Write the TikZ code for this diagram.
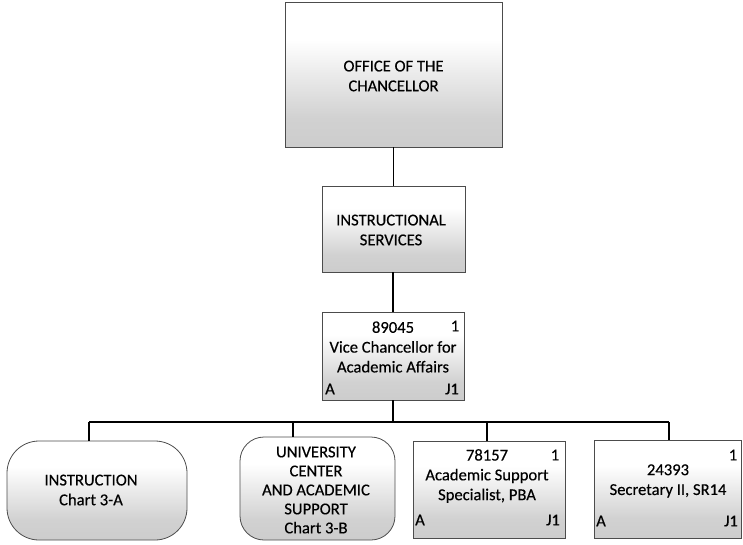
\documentclass[tikz,border=0pt]{standalone}
\usepackage{fontspec}
\setmainfont{Carlito}[UprightFeatures={FakeBold=0.35}]
\pgfdeclareverticalshading{boxshade}{100bp}{color(0bp)=(black!24); color(35bp)=(black!18); color(62bp)=(white); color(100bp)=(white)}
\tikzset{
  orgbox/.style={draw=black!70, line width=0.8pt, shading=boxshade, inner sep=0pt},
  roundbox/.style={orgbox, rounded corners=28pt},
  lbl/.style={font=\fontsize{16.6}{19.8}\selectfont, align=center, inner sep=0pt},
  corner/.style={font=\fontsize{16.6}{19.8}\selectfont, inner sep=0pt},
  conn/.style={line width=1.4pt, black}
}
\begin{document}
\begin{tikzpicture}[x=1pt,y=-1pt]
\useasboundingbox (0,0) rectangle (743,544);
% boxes
\node[orgbox, minimum width=217pt, minimum height=145pt] (office) at (393.5,74.5) {};
\node[lbl] (officet) at (393.5,76) {OFFICE OF THE\\CHANCELLOR};
\node[orgbox, minimum width=143pt, minimum height=86pt] (instr) at (393.5,229) {};
\node[lbl] (instrt) at (391,230) {INSTRUCTIONAL\\SERVICES};
\node[orgbox, minimum width=142pt, minimum height=88pt] (vc) at (393,356) {};
\node[lbl] (vct) at (393,347) {89045\\Vice Chancellor for\\Academic Affairs};
\node[corner] (vcn) at (455,326) {1};
\node[corner] (vca) at (330,389) {A};
\node[corner] (vcj) at (452,389) {J1};
% children
\node[roundbox, rounded corners=32pt, minimum width=180pt, minimum height=99pt] (c1) at (97,490.5) {};
\node[lbl] (c1t) at (91,490) {INSTRUCTION\\Chart 3-A};
\node[roundbox, rounded corners=24pt, minimum width=155pt, minimum height=103pt] (c2) at (317.5,488.5) {};
\node[lbl, font=\fontsize{16.6}{19}\selectfont] (c2t) at (316,490) {UNIVERSITY\\CENTER\\AND ACADEMIC\\SUPPORT\\Chart 3-B};
\node[orgbox, minimum width=152pt, minimum height=97pt] (c3) at (489,489.5) {};
\node[lbl] (c3t) at (487,476) {78157\\Academic Support\\Specialist, PBA};
\node[corner] (c3n) at (555,455) {1};
\node[corner] (c3a) at (420,520) {A};
\node[corner] (c3j) at (553,520) {J1};
\node[orgbox, minimum width=147pt, minimum height=98pt] (c4) at (667.5,489) {};
\node[lbl] (c4t) at (668,481) {24393\\Secretary II, SR14};
\node[corner] (c4n) at (733,455) {1};
\node[corner] (c4a) at (601,521) {A};
\node[corner] (c4j) at (731,521) {J1};
% connectors
\coordinate (b1) at (89,422);
\coordinate (b2) at (293,422);
\coordinate (b3) at (487,422);
\coordinate (b4) at (669,422);
\draw[conn] (office.south) -- (instr.north);
\draw[conn] (instr.south) -- (vc.south |- instr.south) -- (vc.north);
\draw[conn] (vc.south) -- (vc.south |- b1);
\draw[conn] (b1) -- (b4);
\draw[conn] (b1) -- (b1 |- c1.north);
\draw[conn] (b2) -- (b2 |- c2.north);
\draw[conn] (b3) -- (b3 |- c3.north);
\draw[conn] (b4) -- (b4 |- c4.north);
\end{tikzpicture}
\end{document}
